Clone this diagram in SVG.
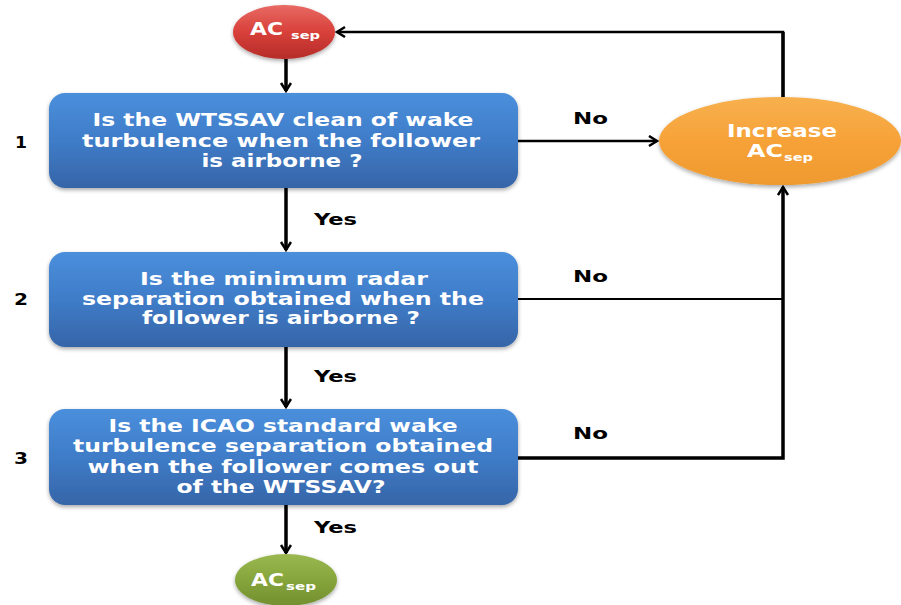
<svg xmlns="http://www.w3.org/2000/svg" width="901" height="605" viewBox="0 0 901 605">
<style>
.bt{font-family:"DejaVu Sans",Verdana,sans-serif;font-weight:bold;font-size:17px;fill:#fff;text-anchor:middle}
.lb{font-family:"DejaVu Sans",Verdana,sans-serif;font-weight:bold;font-size:16px;fill:#000}
.et{font-family:"DejaVu Sans",Verdana,sans-serif;font-weight:bold;fill:#fff}
.ln{stroke:#000;fill:none}
</style>
<defs>
<linearGradient id="gb" x1="0" y1="0" x2="0" y2="1">
<stop offset="0" stop-color="#4a8fdc"/><stop offset="0.5" stop-color="#3f7cc8"/><stop offset="1" stop-color="#3665a8"/>
</linearGradient>
<linearGradient id="gr" x1="0" y1="0" x2="0" y2="1">
<stop offset="0" stop-color="#e86a64"/><stop offset="0.5" stop-color="#d8403a"/><stop offset="1" stop-color="#b52c28"/>
</linearGradient>
<linearGradient id="go" x1="0" y1="0" x2="0" y2="1">
<stop offset="0" stop-color="#f7b04e"/><stop offset="0.5" stop-color="#f7a238"/><stop offset="1" stop-color="#ee9a30"/>
</linearGradient>
<linearGradient id="gg" x1="0" y1="0" x2="0" y2="1">
<stop offset="0" stop-color="#9ab850"/><stop offset="0.5" stop-color="#86a53b"/><stop offset="1" stop-color="#738f30"/>
</linearGradient>
<filter id="sh" x="-10%" y="-10%" width="120%" height="130%">
<feGaussianBlur in="SourceAlpha" stdDeviation="2"/><feOffset dy="2"/>
<feComponentTransfer><feFuncA type="linear" slope="0.35"/></feComponentTransfer>
<feMerge><feMergeNode/><feMergeNode in="SourceGraphic"/></feMerge>
</filter>
<marker id="ah" markerUnits="userSpaceOnUse" markerWidth="14" markerHeight="14" refX="9" refY="6" orient="auto">
<path d="M1,1 L9,6 L1,11" fill="none" stroke="#000" stroke-width="2.5"/>
</marker>
</defs>

<g id="connectors">
<line class="ln" x1="286" y1="59" x2="286" y2="91" stroke-width="3.5" marker-end="url(#ah)"/>
<line class="ln" x1="286" y1="188" x2="286" y2="250" stroke-width="3.5" marker-end="url(#ah)"/>
<line class="ln" x1="286" y1="347" x2="286" y2="407" stroke-width="3.5" marker-end="url(#ah)"/>
<line class="ln" x1="286" y1="505" x2="286" y2="553" stroke-width="3.5" marker-end="url(#ah)"/>
<line class="ln" x1="518" y1="141" x2="657" y2="141" stroke-width="2.5" marker-end="url(#ah)"/>
<line class="ln" x1="518" y1="299" x2="783" y2="299" stroke-width="2"/>
<polyline class="ln" points="518,458 783,458 783,187" stroke-width="3.5" marker-end="url(#ah)"/>
<polyline class="ln" points="783,97 783,32 337,32" stroke-width="2.5" marker-end="url(#ah)"/>
<polyline class="ln" points="783,97 783,32" stroke-width="3.5"/>
</g>

<g id="start">
<ellipse cx="284" cy="32" rx="51" ry="27" fill="url(#gr)" filter="url(#sh)"/>
<text class="et" x="250" y="35" font-size="17" textLength="33" lengthAdjust="spacingAndGlyphs">AC</text>
<text class="et" x="291" y="39" font-size="11" textLength="29" lengthAdjust="spacingAndGlyphs">sep</text>
</g>

<g id="q1">
<rect x="49" y="93" width="469" height="95" rx="16" fill="url(#gb)" filter="url(#sh)"/>
<text class="bt" x="283" y="126" textLength="381" lengthAdjust="spacingAndGlyphs">Is the WTSSAV clean of wake</text>
<text class="bt" x="281" y="147" textLength="398" lengthAdjust="spacingAndGlyphs">turbulence when the follower</text>
<text class="bt" x="282" y="167" textLength="161" lengthAdjust="spacingAndGlyphs">is airborne ?</text>
</g>

<g id="q2">
<rect x="49" y="252" width="469" height="95" rx="16" fill="url(#gb)" filter="url(#sh)"/>
<text class="bt" x="284" y="285" textLength="288" lengthAdjust="spacingAndGlyphs">Is the minimum radar</text>
<text class="bt" x="283" y="305" textLength="402" lengthAdjust="spacingAndGlyphs">separation obtained when the</text>
<text class="bt" x="281" y="324" textLength="278" lengthAdjust="spacingAndGlyphs">follower is airborne ?</text>
</g>

<g id="q3">
<rect x="49" y="409" width="469" height="96" rx="16" fill="url(#gb)" filter="url(#sh)"/>
<text class="bt" x="283" y="432" textLength="349" lengthAdjust="spacingAndGlyphs">Is the ICAO standard wake</text>
<text class="bt" x="283" y="452" textLength="420" lengthAdjust="spacingAndGlyphs">turbulence separation obtained</text>
<text class="bt" x="283" y="473" textLength="391" lengthAdjust="spacingAndGlyphs">when the follower comes out</text>
<text class="bt" x="281" y="493" textLength="209" lengthAdjust="spacingAndGlyphs">of the WTSSAV?</text>
</g>

<g id="increase">
<ellipse cx="780" cy="141" rx="121" ry="44" fill="url(#go)" filter="url(#sh)"/>
<text class="et" x="727" y="137" font-size="17" textLength="110" lengthAdjust="spacingAndGlyphs">Increase</text>
<text class="et" x="747" y="157" font-size="17" textLength="36" lengthAdjust="spacingAndGlyphs">AC</text>
<text class="et" x="784" y="161" font-size="11" textLength="29" lengthAdjust="spacingAndGlyphs">sep</text>
</g>

<g id="end">
<ellipse cx="286" cy="580" rx="51" ry="26" fill="url(#gg)" filter="url(#sh)"/>
<text class="et" x="251" y="586" font-size="17" textLength="33" lengthAdjust="spacingAndGlyphs">AC</text>
<text class="et" x="286" y="590" font-size="11" textLength="30" lengthAdjust="spacingAndGlyphs">sep</text>
</g>

<g id="labels">
<text class="lb" x="15" y="148" textLength="12" lengthAdjust="spacingAndGlyphs">1</text>
<text class="lb" x="14" y="305" textLength="14" lengthAdjust="spacingAndGlyphs">2</text>
<text class="lb" x="14" y="464" textLength="14" lengthAdjust="spacingAndGlyphs">3</text>
<text class="lb" x="314" y="225" textLength="43" lengthAdjust="spacingAndGlyphs">Yes</text>
<text class="lb" x="314" y="382" textLength="43" lengthAdjust="spacingAndGlyphs">Yes</text>
<text class="lb" x="314" y="533" textLength="43" lengthAdjust="spacingAndGlyphs">Yes</text>
<text class="lb" x="573" y="124" textLength="35" lengthAdjust="spacingAndGlyphs">No</text>
<text class="lb" x="573" y="282" textLength="35" lengthAdjust="spacingAndGlyphs">No</text>
<text class="lb" x="573" y="439" textLength="35" lengthAdjust="spacingAndGlyphs">No</text>
</g>
</svg>
